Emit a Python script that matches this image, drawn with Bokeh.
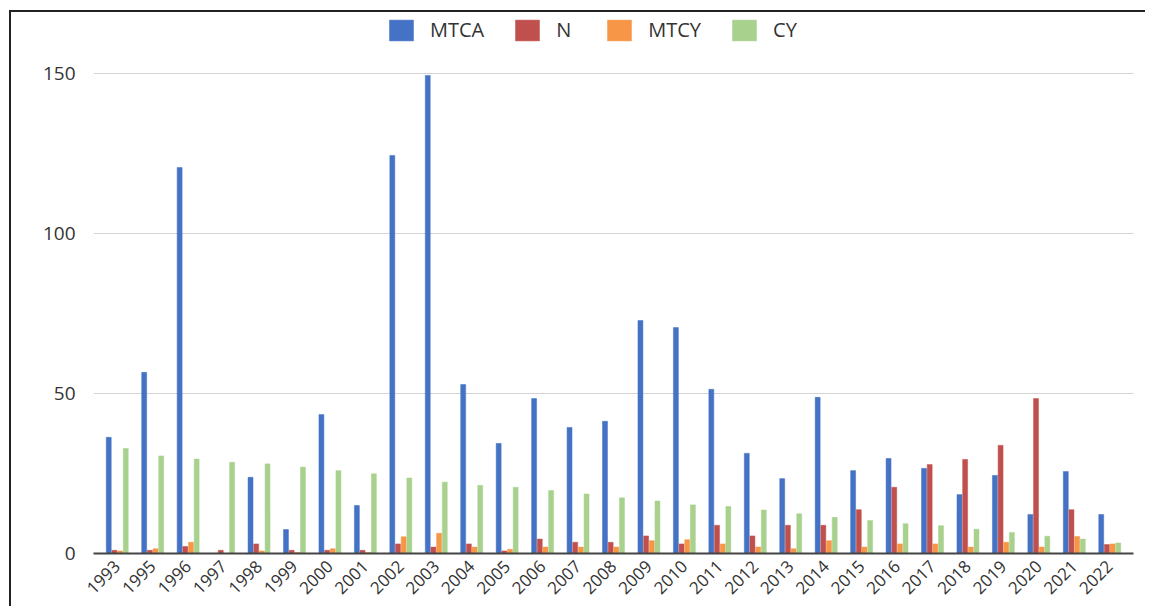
from bokeh.plotting import figure
from bokeh.models import ColumnDataSource, FactorRange, Range1d, Legend, LegendItem, FixedTicker
from bokeh.transform import dodge
from bokeh.embed import file_html
from bokeh.resources import INLINE
import math

years = ["1993", "1995", "1996", "1997", "1998", "1999", "2000", "2001", "2002", "2003",
         "2004", "2005", "2006", "2007", "2008", "2009", "2010", "2011", "2012", "2013",
         "2014", "2015", "2016", "2017", "2018", "2019", "2020", "2021", "2022"]
mtca = [36.3, 56.6, 120.6, 0, 23.8, 7.5, 43.4, 15.0, 124.4, 149.4,
        52.8, 34.4, 48.4, 39.4, 41.3, 72.8, 70.6, 51.3, 31.3, 23.4,
        48.8, 25.9, 29.7, 26.6, 18.4, 24.4, 12.2, 25.6, 12.2]
n = [1.0, 1.0, 2.2, 1.0, 3.0, 1.0, 1.0, 1.0, 3.0, 2.0,
     3.0, 0.8, 4.5, 3.5, 3.5, 5.5, 3.0, 8.8, 5.5, 8.8,
     8.8, 13.7, 20.7, 27.8, 29.4, 33.8, 48.4, 13.7, 2.8]
mtcy = [0.8, 1.5, 3.5, 0, 0.8, 0.3, 1.5, 0.3, 5.2, 6.3,
        2.0, 1.3, 2.0, 2.0, 2.0, 4.0, 4.3, 3.0, 2.0, 1.5,
        4.0, 2.0, 3.0, 3.0, 2.0, 3.5, 2.0, 5.3, 3.0]
cy = [32.8, 30.5, 29.5, 28.5, 28.0, 27.0, 25.9, 24.9, 23.6, 22.3,
      21.3, 20.7, 19.7, 18.6, 17.4, 16.4, 15.2, 14.7, 13.6, 12.4,
      11.3, 10.3, 9.3, 8.7, 7.6, 6.6, 5.4, 4.5, 3.3]
series = ["MTCA", "N", "MTCY", "CY"]
colors = ["#4472c4", "#c0504d", "#f79646", "#a9d18e"]
y_ticks = [0, 50, 100, 150]

src = ColumnDataSource(dict(year=years, MTCA=mtca, N=n, MTCY=mtcy, CY=cy))

p = figure(x_range=FactorRange(*years, range_padding=0.17, range_padding_units="absolute"),
           y_range=Range1d(0, 170.3),
           width=1145, height=606, output_backend="svg", toolbar_location=None,
           min_border_left=93, min_border_right=12, min_border_top=8, min_border_bottom=53)
p.border_fill_color = None
p.background_fill_color = None
p.styles = {
    "background": "linear-gradient(#222,#222) 9px 10px / 2px calc(100% - 10px) no-repeat, "
                  "linear-gradient(#222,#222) 9px 10px / calc(100% - 9px) 2px no-repeat, #ffffff"
}

offsets = [-0.24, -0.08, 0.08, 0.24]
items = []
for s, c, off in zip(series, colors, offsets):
    r = p.vbar(x=dodge("year", off, range=p.x_range), top=s, width=0.14, source=src,
               fill_color=c, line_color=c, line_width=0.5)
    items.append(LegendItem(label=s, renderers=[r]))

legend = Legend(items=items, orientation="horizontal", location=(293, 510),
                glyph_width=30, glyph_height=26, label_standoff=14, spacing=28,
                label_text_font="Open Sans", label_text_font_size="20px",
                label_text_color="#333333", border_line_color=None,
                background_fill_alpha=0, padding=5, margin=0)
p.add_layout(legend, "center")

p.outline_line_color = None
p.xgrid.grid_line_color = None
p.ygrid.grid_line_color = "#d4d4d4"
p.ygrid.grid_line_width = 1

p.yaxis.ticker = FixedTicker(ticks=y_ticks)
p.yaxis.axis_line_color = None
p.yaxis.major_tick_line_color = None
p.yaxis.minor_tick_line_color = None
p.yaxis.major_label_text_font = "Open Sans"
p.yaxis.major_label_text_font_size = "19px"
p.yaxis.major_label_text_color = "#333333"
p.yaxis.major_label_standoff = 12

p.xaxis.axis_line_color = "#444444"
p.xaxis.axis_line_width = 2
p.xaxis.major_tick_line_color = None
p.xaxis.minor_tick_line_color = None
p.xaxis.major_label_orientation = math.pi / 4
p.xaxis.major_label_text_font = "Open Sans"
p.xaxis.major_label_text_font_size = "17px"
p.xaxis.major_label_text_color = "#333333"
p.xaxis.major_label_standoff = 4

open("out.html", "w").write(file_html(p, INLINE))
